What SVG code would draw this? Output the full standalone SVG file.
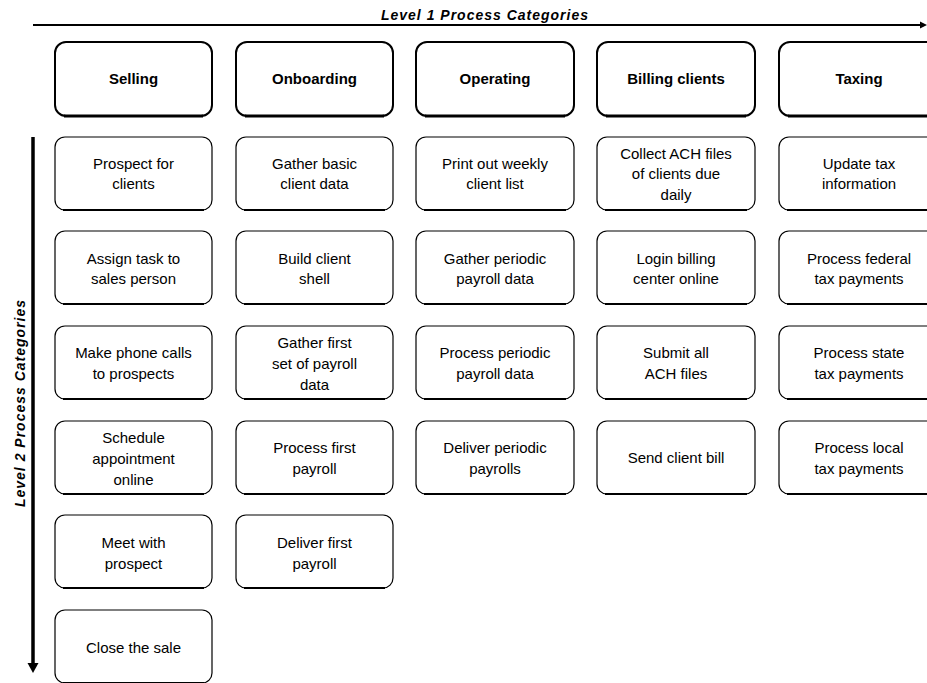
<svg xmlns="http://www.w3.org/2000/svg" width="927" height="683" viewBox="0 0 927 683">
<style>
.l1 rect{fill:#fff;stroke:#000;stroke-width:2}
.l2 rect{fill:#fff;stroke:#000;stroke-width:1.2}
.sh{stroke:#000;stroke-width:2;fill:none}
.sh1{stroke:#000;stroke-width:3;fill:none}
text{font-family:"Liberation Sans",Arial,sans-serif;font-size:15px;fill:#000;text-anchor:middle}
.h{font-weight:bold}
.ax{font-weight:bold;font-style:italic;font-size:14px;letter-spacing:1px}
</style>
<defs>
<marker id="ah" markerWidth="8" markerHeight="8" refX="7" refY="4" orient="auto" markerUnits="userSpaceOnUse">
<path d="M0,0.5 L7,4 L0,7.5 z" fill="#000"/>
</marker>
<marker id="av" markerWidth="12" markerHeight="12" refX="10" refY="6" orient="auto" markerUnits="userSpaceOnUse">
<path d="M0,0.5 L10,6 L0,11.5 z" fill="#000"/>
</marker>
</defs>
<rect width="927" height="683" fill="#fff"/>
<g id="connectors">
<line x1="33" y1="25" x2="920" y2="25" stroke="#000" stroke-width="2"/>
<line x1="33" y1="25" x2="927" y2="25" stroke="none" marker-end="url(#ah)"/>
<line x1="33" y1="137" x2="33" y2="664" stroke="#000" stroke-width="3.5"/>
<line x1="33" y1="137" x2="33" y2="673" stroke="none" marker-end="url(#av)"/>
</g>
<text class="ax" x="485" y="20">Level 1 Process Categories</text>
<text class="ax" transform="translate(25,403) rotate(-90)" x="0" y="0">Level 2 Process Categories</text>

<g id="l1-selling" class="l1"><rect x="55" y="42" width="157" height="74" rx="11"/><line class="sh1" x1="64" y1="116" x2="203" y2="116"/><text class="h" x="133.5" y="84">Selling</text></g>
<g id="l1-onboarding" class="l1"><rect x="236" y="42" width="157" height="74" rx="11"/><line class="sh1" x1="245" y1="116" x2="384" y2="116"/><text class="h" x="314.5" y="84">Onboarding</text></g>
<g id="l1-operating" class="l1"><rect x="416" y="42" width="158" height="74" rx="11"/><line class="sh1" x1="425" y1="116" x2="565" y2="116"/><text class="h" x="495" y="84">Operating</text></g>
<g id="l1-billing" class="l1"><rect x="597" y="42" width="158" height="74" rx="11"/><line class="sh1" x1="606" y1="116" x2="746" y2="116"/><text class="h" x="676" y="84">Billing clients</text></g>
<g id="l1-taxing" class="l1"><rect x="779" y="42" width="160" height="74" rx="11"/><line class="sh1" x1="788" y1="116" x2="927" y2="116"/><text class="h" x="859" y="84">Taxing</text></g>

<g id="s1" class="l2"><rect x="55" y="137" width="157" height="73" rx="10"/><line class="sh" x1="63" y1="210" x2="204" y2="210"/><text x="133.5" y="169">Prospect for</text><text x="133.5" y="189">clients</text></g>
<g id="s2" class="l2"><rect x="55" y="231" width="157" height="73" rx="10"/><line class="sh" x1="63" y1="304" x2="204" y2="304"/><text x="133.5" y="264">Assign task to</text><text x="133.5" y="284">sales person</text></g>
<g id="s3" class="l2"><rect x="55" y="326" width="157" height="73" rx="10"/><line class="sh" x1="63" y1="399" x2="204" y2="399"/><text x="133.5" y="358">Make phone calls</text><text x="133.5" y="379">to prospects</text></g>
<g id="s4" class="l2"><rect x="55" y="421" width="157" height="73" rx="10"/><line class="sh" x1="63" y1="494" x2="204" y2="494"/><text x="133.5" y="443">Schedule</text><text x="133.5" y="464">appointment</text><text x="133.5" y="485">online</text></g>
<g id="s5" class="l2"><rect x="55" y="515" width="157" height="73" rx="10"/><line class="sh" x1="63" y1="588" x2="204" y2="588"/><text x="133.5" y="548">Meet with</text><text x="133.5" y="569">prospect</text></g>
<g id="s6" class="l2"><rect x="55" y="610" width="157" height="73" rx="10"/><line class="sh" x1="63" y1="683" x2="204" y2="683"/><text x="133.5" y="653">Close the sale</text></g>

<g id="o1" class="l2"><rect x="236" y="137" width="157" height="73" rx="10"/><line class="sh" x1="244" y1="210" x2="385" y2="210"/><text x="314.5" y="169">Gather basic</text><text x="314.5" y="189">client data</text></g>
<g id="o2" class="l2"><rect x="236" y="231" width="157" height="73" rx="10"/><line class="sh" x1="244" y1="304" x2="385" y2="304"/><text x="314.5" y="264">Build client</text><text x="314.5" y="284">shell</text></g>
<g id="o3" class="l2"><rect x="236" y="326" width="157" height="73" rx="10"/><line class="sh" x1="244" y1="399" x2="385" y2="399"/><text x="314.5" y="348">Gather first</text><text x="314.5" y="369">set of payroll</text><text x="314.5" y="390">data</text></g>
<g id="o4" class="l2"><rect x="236" y="421" width="157" height="73" rx="10"/><line class="sh" x1="244" y1="494" x2="385" y2="494"/><text x="314.5" y="453">Process first</text><text x="314.5" y="474">payroll</text></g>
<g id="o5" class="l2"><rect x="236" y="515" width="157" height="73" rx="10"/><line class="sh" x1="244" y1="588" x2="385" y2="588"/><text x="314.5" y="548">Deliver first</text><text x="314.5" y="569">payroll</text></g>

<g id="p1" class="l2"><rect x="416" y="137" width="158" height="73" rx="10"/><line class="sh" x1="424" y1="210" x2="566" y2="210"/><text x="495" y="169">Print out weekly</text><text x="495" y="189">client list</text></g>
<g id="p2" class="l2"><rect x="416" y="231" width="158" height="73" rx="10"/><line class="sh" x1="424" y1="304" x2="566" y2="304"/><text x="495" y="264">Gather periodic</text><text x="495" y="284">payroll data</text></g>
<g id="p3" class="l2"><rect x="416" y="326" width="158" height="73" rx="10"/><line class="sh" x1="424" y1="399" x2="566" y2="399"/><text x="495" y="358">Process periodic</text><text x="495" y="379">payroll data</text></g>
<g id="p4" class="l2"><rect x="416" y="421" width="158" height="73" rx="10"/><line class="sh" x1="424" y1="494" x2="566" y2="494"/><text x="495" y="453">Deliver periodic</text><text x="495" y="474">payrolls</text></g>

<g id="b1" class="l2"><rect x="597" y="137" width="158" height="73" rx="10"/><line class="sh" x1="605" y1="210" x2="747" y2="210"/><text x="676" y="159">Collect ACH files</text><text x="676" y="179">of clients due</text><text x="676" y="200">daily</text></g>
<g id="b2" class="l2"><rect x="597" y="231" width="158" height="73" rx="10"/><line class="sh" x1="605" y1="304" x2="747" y2="304"/><text x="676" y="264">Login billing</text><text x="676" y="284">center online</text></g>
<g id="b3" class="l2"><rect x="597" y="326" width="158" height="73" rx="10"/><line class="sh" x1="605" y1="399" x2="747" y2="399"/><text x="676" y="358">Submit all</text><text x="676" y="379">ACH files</text></g>
<g id="b4" class="l2"><rect x="597" y="421" width="158" height="73" rx="10"/><line class="sh" x1="605" y1="494" x2="747" y2="494"/><text x="676" y="463">Send client bill</text></g>

<g id="t1" class="l2"><rect x="779" y="137" width="160" height="73" rx="10"/><line class="sh" x1="787" y1="210" x2="927" y2="210"/><text x="859" y="169">Update tax</text><text x="859" y="189">information</text></g>
<g id="t2" class="l2"><rect x="779" y="231" width="160" height="73" rx="10"/><line class="sh" x1="787" y1="304" x2="927" y2="304"/><text x="859" y="264">Process federal</text><text x="859" y="284">tax payments</text></g>
<g id="t3" class="l2"><rect x="779" y="326" width="160" height="73" rx="10"/><line class="sh" x1="787" y1="399" x2="927" y2="399"/><text x="859" y="358">Process state</text><text x="859" y="379">tax payments</text></g>
<g id="t4" class="l2"><rect x="779" y="421" width="160" height="73" rx="10"/><line class="sh" x1="787" y1="494" x2="927" y2="494"/><text x="859" y="453">Process local</text><text x="859" y="474">tax payments</text></g>
</svg>
